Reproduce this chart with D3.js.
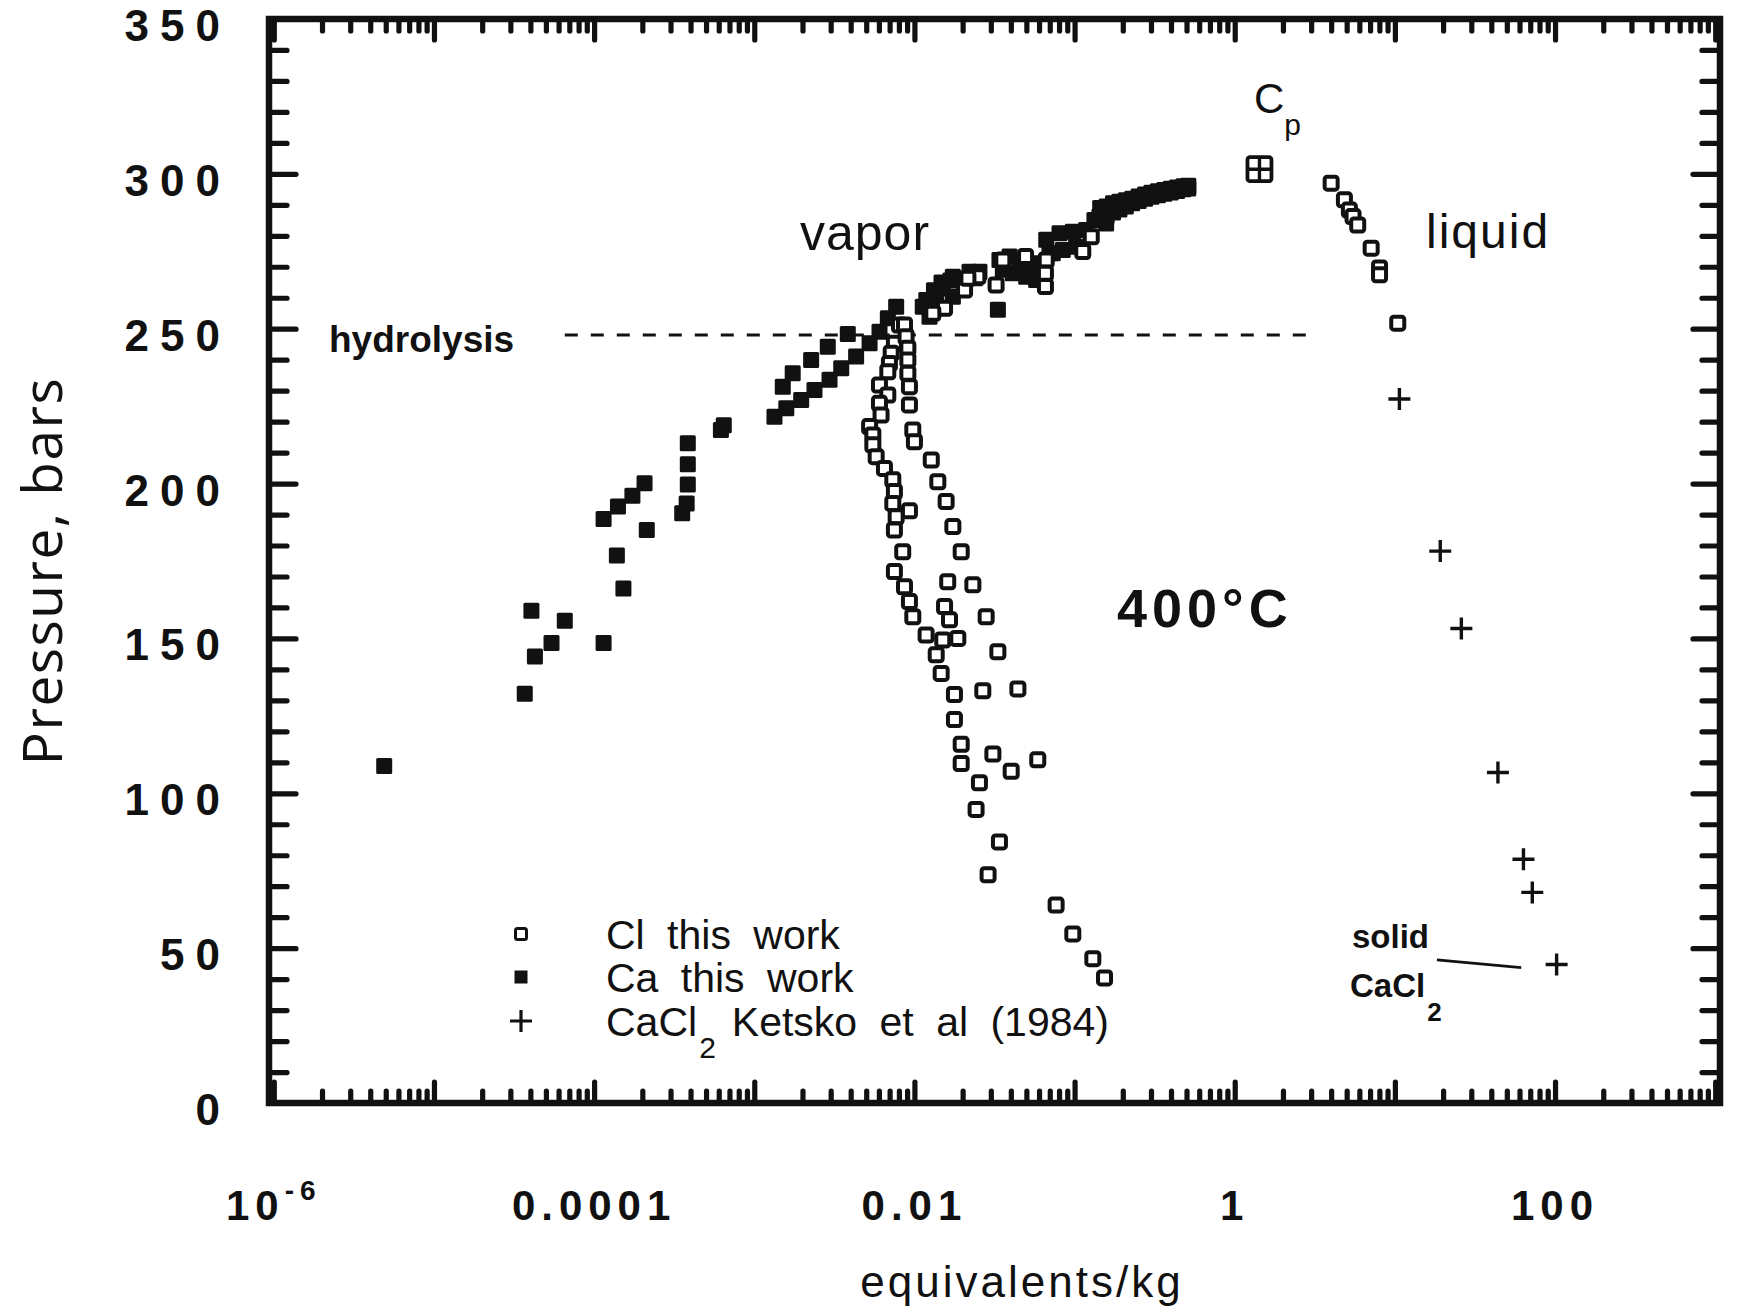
<!DOCTYPE html>
<meta charset="utf-8">
<script src="https://d3js.org/d3.v7.min.js"></script>
<style>
    body { margin: 0; background: #fff; }
    text { font-family: "Liberation Sans", Arial, sans-serif; fill: #111; }
</style>
<div id="chart"></div>

<script>

    // Cl this work, vapor side (equivalents/kg, bars)
    const clX = [0.00807, 0.00750, 0.00716, 0.00698, 0.00682, 0.00867, 0.00887, 0.00910, 0.00910, 0.00910,
        0.00605, 0.00682, 0.00605, 0.00619, 0.00525, 0.00550, 0.00550, 0.00577, 0.00650, 0.00733,
        0.00750, 0.00733, 0.00769, 0.00750, 0.00845, 0.00750, 0.00867, 0.00931, 0.00977, 0.01183,
        0.01368, 0.01469, 0.00931, 0.00931, 0.00931, 0.00977, 0.0100, 0.01274, 0.0140, 0.01578,
        0.01738, 0.01959, 0.02317, 0.02805, 0.03319, 0.01614, 0.01542, 0.01656, 0.01503, 0.01866,
        0.01778, 0.01778, 0.01959, 0.01959, 0.0309, 0.0402, 0.0589, 0.02547, 0.02427, 0.03396,
        0.02884, 0.0767, 0.0975, 0.130, 0.1538, 0.02673, 0.04426, 0.01542, 0.02056, 0.02489,
        0.02158, 0.03236, 0.03565, 0.04943, 0.06653, 0.06577, 0.06577, 0.1125, 0.1271, 0.01303];
    const clP = [251.2, 245.3, 242.1, 238.8, 236.1, 251.2, 247.4, 243.7, 239.9, 235.6,
        231.8, 228.6, 225.9, 222.1, 218.4, 215.7, 212.5, 208.7, 204.9, 201.2,
        197.4, 193.6, 189.3, 185.0, 178.0, 171.6, 166.7, 161.9, 157.0, 151.1,
        144.7, 138.7, 191.2, 231.3, 225.4, 217.3, 213.5, 207.6, 200.6, 194.2,
        186.1, 178.0, 167.3, 157.0, 145.7, 168.3, 160.3, 156.0, 149.5, 150.0,
        131.9, 123.8, 115.8, 109.6, 112.7, 107.1, 110.8, 103.4, 94.8, 84.3,
        73.7, 63.9, 54.6, 46.6, 40.4, 133.1, 133.7, 256.6, 262.5, 266.8,
        266.3, 264.1, 272.2, 273.3, 272.2, 267.9, 263.6, 274.9, 279.7, 255.0];

    // Cl this work, liquid side
    const clLiqX = [4.0, 4.84, 5.20, 5.48, 5.86, 7.11, 8.02, 8.02, 10.42];
    const clLiqP = [297, 291.6, 288.3, 286.2, 283.5, 276, 269.6, 267.4, 251.8];

    // critical point
    const cpX = [1.427];
    const cpP = [301.5];

    // Ca this work
    const caX = [4.89e-6, 3.69e-5, 4.06e-5, 4.27e-5, 5.42e-5, 6.56e-5, 1.146e-4, 1.146e-4, 1.409e-4, 1.734e-4,
        2.065e-4, 1.387e-4, 1.524e-4, 2.133e-4, 3.548e-4, 3.784e-4, 3.846e-4, 3.846e-4, 3.846e-4, 6.19e-4,
        6.45e-4, 1.337e-3, 1.507e-3, 1.738e-3, 2.265e-3, 2.877e-3, 3.837e-3, 1.585e-3, 1.963e-3, 2.377e-3,
        2.951e-3, 3.491e-3, 4.325e-3, 5.248e-3, 6.053e-3, 6.823e-3, 7.691e-3, 0.01127, 0.01242, 0.01503,
        0.01738, 0.01324, 0.01476, 0.01679, 0.01941, 0.02388, 0.02208, 0.02547, 0.01738, 0.01368,
        0.01186, 0.0332, 0.03396, 0.03926, 0.04529, 0.05224, 0.06039, 0.06966, 0.04111, 0.04989,
        0.05754, 0.03565, 0.06653, 0.08054, 0.0975, 0.118, 0.08433, 0.1023, 0.0731, 0.1429,
        0.1574, 0.1330,
        0.1445, 0.1445, 0.1585, 0.1585, 0.1738, 0.1738, 0.1905, 0.1905, 0.2089, 0.2089,
        0.2291, 0.2291, 0.2512, 0.2512, 0.2754, 0.2754, 0.3020, 0.3020, 0.3311, 0.3311,
        0.3631, 0.3631, 0.3981, 0.3981, 0.4365, 0.4365, 0.4786, 0.4786, 0.5129, 0.5129];
    const caP = [108.8, 132.1, 158.9, 144.2, 148.5, 155.7, 148.5, 188.6, 192.6, 196.1,
        200.1, 176.8, 166.1, 185.0, 190.4, 193.6, 199.7, 206.2, 213.0, 217.3,
        218.8, 221.6, 231.3, 235.6, 239.9, 244.2, 248.3, 224.3, 227.0, 230.2,
        233.5, 237.2, 241.0, 245.3, 249.0, 253.4, 257.1, 257.1, 253.9, 263.0,
        266.8, 262.4, 264.9, 265.6, 266.0, 266.3, 268.4, 268.4, 260.3, 258.2,
        259.3, 256.1, 272.2, 273.3, 271.1, 270.0, 271.1, 274.4, 267.9, 266.8,
        265.7, 269.0, 278.7, 280.8, 281.3, 281.9, 275.4, 276.5, 274.4, 286.2,
        284.0, 285.1,
        285, 289, 286.5, 289.5, 287.5, 290.5, 288.5, 291, 289.5, 291.5,
        290.5, 292, 291.2, 292.7, 292, 293.3, 292.6, 293.9, 293.1, 294.4,
        293.6, 294.8, 294, 295.2, 294.5, 295.6, 295, 296, 295.3, 296.2];

    // CaCl2, Ketsko et al (1984)
    const ketskoX = [10.67, 19.2, 26.0, 44.0, 63.5, 72.1, 102.3];
    const ketskoP = [227.3, 178.2, 153.2, 106.7, 78.7, 68.0, 44.7];

    // hydrolysis line and the pointer to solid CaCl2
    const hydrolysisX = [6.56e-5, 3.33];
    const hydrolysisP = 248;
    const solidLineX = [18.3, 61.5];
    const solidLineP = [46.2, 43.7];

    const yTicks = [0, 50, 100, 150, 200, 250, 300, 350];
    const xTickValues = [1e-6, 1e-4, 1e-2, 1, 100];
    const xTickLabels = ["10", "0.0001", "0.01", "1", "100"];
    const legendLabels = ["Cl this work", "Ca this work", "CaCl"];

    const margin = {top: 19, right: 18, bottom: 209, left: 269},
        width = 1738 - margin.left - margin.right,
        height = 1312 - margin.top - margin.bottom;

    const svg = d3.select("#chart")
        .append("svg")
        .attr("width", 1738)
        .attr("height", 1312);
    const g = svg.append("g")
        .attr("transform", `translate(${margin.left}, ${margin.top})`);

    const x = d3.scaleLog()
        .domain([Math.pow(10, -6.03), Math.pow(10, 3.03)])
        .range([0, width]);
    const y = d3.scaleLinear()
        .domain([0, 350])
        .range([height, 0]);

    // tick positions
    const xMajor = d3.range(-6, 4).map(e => Math.pow(10, e));
    const xMinor = [];
    d3.range(-7, 4).forEach(e => {
        for (let k = 2; k <= 9; k++) {
            const v = k * Math.pow(10, e);
            if (v > x.domain()[0] && v < x.domain()[1]) xMinor.push(v);
        }
    });
    const yMajor = yTicks;
    const yMinor = d3.range(0, 351, 10).filter(v => v % 50 !== 0);

    function tickAxis(gen, values, size, transform) {
        const a = g.append("g")
            .attr("transform", transform)
            .call(gen.tickValues(values).tickSizeInner(size).tickSizeOuter(0).tickFormat(""));
        a.select(".domain").remove();
        a.selectAll("line")
            .attr("stroke", "#111")
            .attr("stroke-width", 5.2)
            .attr("stroke-linecap", "round");
    }
    tickAxis(d3.axisLeft(y), yMinor, -18, "translate(0,0)");
    tickAxis(d3.axisLeft(y), yMajor, -27, "translate(0,0)");
    tickAxis(d3.axisRight(y), yMinor, -18, `translate(${width},0)`);
    tickAxis(d3.axisRight(y), yMajor, -27, `translate(${width},0)`);
    tickAxis(d3.axisBottom(x), xMinor, -12, `translate(0,${height})`);
    tickAxis(d3.axisBottom(x), xMajor, -21, `translate(0,${height})`);
    tickAxis(d3.axisTop(x), xMinor, -12, "translate(0,0)");
    tickAxis(d3.axisTop(x), xMajor, -21, "translate(0,0)");

    // frame
    g.append("rect")
        .attr("x", 0).attr("y", 0)
        .attr("width", width).attr("height", height)
        .attr("fill", "none")
        .attr("stroke", "#111")
        .attr("stroke-width", 6.5);

    // y tick labels
    g.append("g")
        .selectAll("text")
        .data(yTicks)
        .join("text")
        .attr("x", -38)
        .attr("y", d => y(d) + 22)
        .attr("text-anchor", "end")
        .style("font-size", "44px")
        .style("font-weight", "bold")
        .style("letter-spacing", "11px")
        .text(d => d);

    // x tick labels
    const xl = g.append("g")
        .selectAll("text")
        .data(xTickValues)
        .join("text")
        .attr("x", d => x(d))
        .attr("y", height + 117)
        .attr("text-anchor", "middle")
        .style("font-size", "42px")
        .style("font-weight", "bold")
        .style("letter-spacing", "6px")
        .text((d, i) => xTickLabels[i]);
    xl.filter((d, i) => i === 0)
        .append("tspan")
        .attr("dy", -20)
        .style("font-size", "28px")
        .text("-6");

    // axis titles
    svg.append("text")
        .attr("transform", "translate(62, 571) rotate(-90)")
        .attr("text-anchor", "middle")
        .style("font-family", "'Open Sans', sans-serif")
        .style("font-size", "55px")
        .style("letter-spacing", "1.5px")
        .text("Pressure, bars");
    svg.append("text")
        .attr("x", 1022)
        .attr("y", 1297)
        .attr("text-anchor", "middle")
        .style("font-size", "44px")
        .style("letter-spacing", "3px")
        .text("equivalents/kg");

    // hydrolysis dashed line
    g.append("line")
        .attr("x1", x(hydrolysisX[0])).attr("x2", x(hydrolysisX[1]))
        .attr("y1", y(hydrolysisP)).attr("y2", y(hydrolysisP))
        .attr("stroke", "#111")
        .attr("stroke-width", 3)
        .attr("stroke-dasharray", "13,13");

    // Ca filled squares
    g.append("g")
        .selectAll("rect")
        .data(caX.map((v, i) => [v, caP[i]]))
        .join("rect")
        .attr("x", d => x(d[0]) - 8)
        .attr("y", d => y(d[1]) - 8)
        .attr("width", 16)
        .attr("height", 16)
        .attr("rx", 1.5)
        .attr("fill", "#111");

    // Cl open squares
    const clAll = clX.map((v, i) => [v, clP[i]])
        .concat(clLiqX.map((v, i) => [v, clLiqP[i]]));
    g.append("g")
        .selectAll("rect")
        .data(clAll)
        .join("rect")
        .attr("x", d => x(d[0]) - 6.5)
        .attr("y", d => y(d[1]) - 6.5)
        .attr("width", 13)
        .attr("height", 13)
        .attr("rx", 2.5)
        .attr("fill", "#fff")
        .attr("stroke", "#111")
        .attr("stroke-width", 4);

    // Cp marker
    const cp = g.append("g")
        .attr("transform", `translate(${x(cpX[0])},${y(cpP[0])})`);
    cp.append("rect")
        .attr("x", -12).attr("y", -12)
        .attr("width", 24).attr("height", 24)
        .attr("rx", 2.5)
        .attr("fill", "#fff")
        .attr("stroke", "#111")
        .attr("stroke-width", 3.8);
    cp.append("path")
        .attr("d", "M-12,0H12M0,-12V12")
        .attr("stroke", "#111")
        .attr("stroke-width", 3.4);

    // Ketsko crosses
    g.append("g")
        .selectAll("path")
        .data(ketskoX.map((v, i) => [v, ketskoP[i]]))
        .join("path")
        .attr("transform", d => `translate(${x(d[0])},${y(d[1])})`)
        .attr("d", "M-11,0H11M0,-11V11")
        .attr("stroke", "#111")
        .attr("stroke-width", 3.4);

    // pointer line to solid CaCl2
    g.append("line")
        .attr("x1", x(solidLineX[0])).attr("y1", y(solidLineP[0]))
        .attr("x2", x(solidLineX[1])).attr("y2", y(solidLineP[1]))
        .attr("stroke", "#111")
        .attr("stroke-width", 2.6);

    // annotations
    svg.append("text")
        .attr("x", 329).attr("y", 352)
        .style("font-size", "37px")
        .style("font-weight", "bold")
        .text("hydrolysis");
    svg.append("text")
        .attr("x", 800).attr("y", 250)
        .style("font-size", "50px")
        .style("letter-spacing", "1px")
        .text("vapor");
    svg.append("text")
        .attr("x", 1426).attr("y", 248)
        .style("font-size", "48px")
        .style("letter-spacing", "2px")
        .text("liquid");
    const cpText = svg.append("text")
        .attr("x", 1254).attr("y", 113)
        .style("font-size", "42px")
        .text("C");
    cpText.append("tspan")
        .attr("dx", 0).attr("dy", 22)
        .style("font-size", "30px")
        .text("p");
    svg.append("text")
        .attr("x", 1117).attr("y", 627)
        .style("font-size", "54px")
        .style("font-weight", "bold")
        .style("letter-spacing", "5px")
        .text("400°C");
    svg.append("text")
        .attr("x", 1352).attr("y", 948)
        .style("font-size", "33px")
        .style("font-weight", "bold")
        .text("solid");
    const sText = svg.append("text")
        .attr("x", 1350).attr("y", 997)
        .style("font-size", "33px")
        .style("font-weight", "bold")
        .text("CaCl");
    sText.append("tspan")
        .attr("dx", 2).attr("dy", 24)
        .style("font-size", "26px")
        .text("2");

    // legend
    const legend = svg.append("g");
    const legY = [934, 977, 1021];
    legend.append("rect")
        .attr("x", 521 - 5.5).attr("y", legY[0] - 5.5)
        .attr("width", 11).attr("height", 11).attr("rx", 2)
        .attr("fill", "#fff").attr("stroke", "#111").attr("stroke-width", 3);
    legend.append("rect")
        .attr("x", 521 - 6.5).attr("y", legY[1] - 6.5)
        .attr("width", 13).attr("height", 13)
        .attr("fill", "#111");
    legend.append("path")
        .attr("transform", `translate(521,${legY[2]})`)
        .attr("d", "M-11,0H11M0,-11V11")
        .attr("stroke", "#111").attr("stroke-width", 3.2);
    legend.selectAll("text.lab")
        .data(legendLabels)
        .join("text")
        .attr("class", "lab")
        .attr("x", 606)
        .attr("y", (d, i) => legY[i] + 15)
        .style("font-size", "41px")
        .style("word-spacing", "11px")
        .text(d => d);
    legend.selectAll("text.lab").filter((d, i) => i === 2)
        .append("tspan")
        .attr("dx", 2).attr("dy", 22)
        .style("font-size", "30px")
        .text("2");
    legend.selectAll("text.lab").filter((d, i) => i === 2)
        .append("tspan")
        .attr("dx", 16).attr("dy", -22)
        .text("Ketsko et al (1984)");

</script>
